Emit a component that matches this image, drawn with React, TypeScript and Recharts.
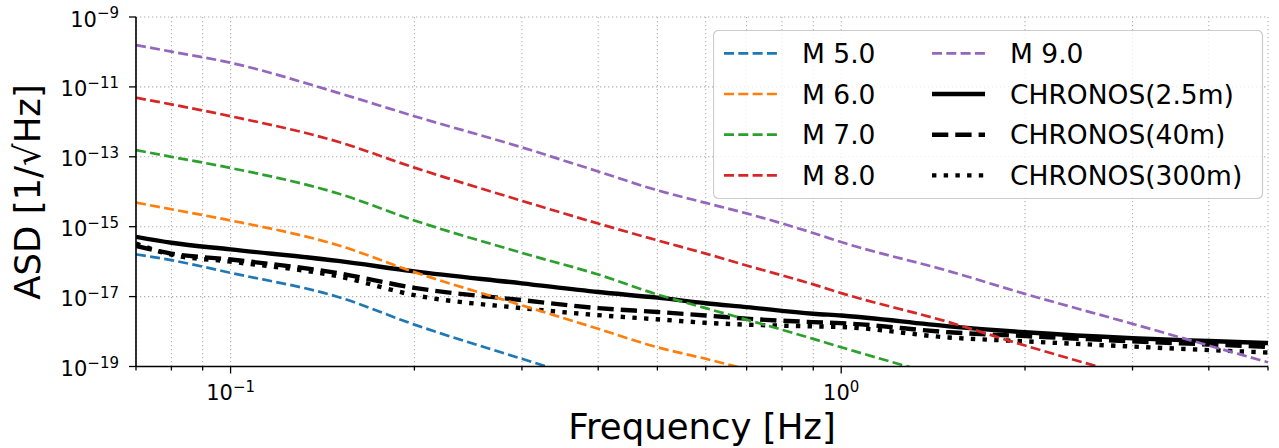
import React from "react";
import { LineChart, Line, XAxis, YAxis, CartesianGrid, Legend } from "recharts";

// frequency grid (Hz) the curves were read at
const freqs = [0.07, 0.08, 0.1, 0.15, 0.2, 0.3, 0.4, 0.5, 0.6, 0.7, 0.9, 1, 1.5, 2, 3, 4, 5];

// earthquake ASD curves (run below the axis, so some are shorter)
const m50 = [1.62e-16, 1.1e-16, 4.79e-17, 9.77e-18, 1.58e-18, 1.66e-19, 3.55e-20];
const m60 = [4.9e-15, 3.16e-15, 1.51e-15, 2.95e-16, 5.01e-17, 5.62e-18, 1.2e-18, 3.55e-19, 1.66e-19, 8.32e-20];
const m70 = [
  1.55e-13, 1.0e-13, 4.79e-14, 8.91e-15, 1.51e-15, 1.78e-16, 4.27e-17, 1.15e-17, 4.68e-18, 2.19e-18, 6.17e-19,
  3.55e-19, 4.68e-20,
];
const m80 = [
  4.9e-12, 3.16e-12, 1.45e-12, 2.69e-13, 4.9e-14, 5.5e-15, 1.23e-15, 4.07e-16, 1.7e-16, 7.76e-17, 2.24e-17, 1.26e-17,
  1.86e-18, 3.98e-19, 5.25e-20,
];
const m90 = [
  1.58e-10, 1.02e-10, 4.9e-11, 6.76e-12, 1.45e-12, 1.86e-13, 3.8e-14, 1.1e-14, 4.79e-15, 2.4e-15, 6.61e-16, 3.63e-16,
  5.37e-17, 1.2e-17, 1.66e-18, 3.98e-19, 1.32e-19,
];

// CHRONOS sensitivity curves
const chronos25 = [
  5.13e-16, 3.47e-16, 2.24e-16, 1.05e-16, 5.25e-17, 2.4e-17, 1.35e-17, 9.33e-18, 6.46e-18, 5.01e-18, 3.24e-18,
  2.88e-18, 1.41e-18, 9.55e-19, 6.46e-19, 5.37e-19, 4.68e-19,
];
const chronos40 = [
  2.82e-16, 1.7e-16, 1.15e-16, 4.68e-17, 1.78e-17, 7.94e-18, 4.68e-18, 3.63e-18, 2.88e-18, 2.34e-18, 1.86e-18,
  1.74e-18, 9.55e-19, 7.41e-19, 5.25e-19, 4.27e-19, 3.63e-19,
];
const chronos300 = [
  3.31e-16, 1.58e-16, 1.0e-16, 3.8e-17, 1.1e-17, 4.68e-18, 2.95e-18, 2.24e-18, 1.78e-18, 1.58e-18, 1.41e-18,
  1.35e-18, 6.76e-19, 5.25e-19, 3.72e-19, 2.95e-19, 2.51e-19,
];

const xTicks = [0.07, 0.08, 0.09, 0.1, 0.2, 0.3, 0.4, 0.5, 0.6, 0.7, 0.8, 0.9, 1, 2, 3, 4, 5];
const xMajor = [0.1, 1];
const xMajorExps = ["\u22121", "0"];
const yTicks = [1e-19, 1e-17, 1e-15, 1e-13, 1e-11, 1e-9];
const yTickExps = ["\u221219", "\u221217", "\u221215", "\u221213", "\u221211", "\u22129"];

const W = 1279;
const H = 448;
const LEFT = 136;
const TOP = 17;
const BOTTOM = 366.5;
const FONT = "DejaVu Sans";

const DASH_M = "10 4.3";

type Series = { name: string; values: number[]; color: string; width: number; dash?: string };

const series: Series[] = [
  { name: "M 5.0", values: m50, color: "#1f77b4", width: 2.7, dash: DASH_M },
  { name: "M 6.0", values: m60, color: "#ff7f0e", width: 2.7, dash: DASH_M },
  { name: "M 7.0", values: m70, color: "#2ca02c", width: 2.7, dash: DASH_M },
  { name: "M 8.0", values: m80, color: "#d62728", width: 2.7, dash: DASH_M },
  { name: "M 9.0", values: m90, color: "#9467bd", width: 2.7, dash: DASH_M },
  { name: "CHRONOS(2.5m)", values: chronos25, color: "#000000", width: 4.4 },
  { name: "CHRONOS(40m)", values: chronos40, color: "#000000", width: 4.4, dash: "16.3 7" },
  { name: "CHRONOS(300m)", values: chronos300, color: "#000000", width: 4.4, dash: "4.4 7.3" },
];

const toPoints = (vals: number[]) => vals.map((v, i) => ({ f: freqs[i], v }));

const XTick = (props: any) => {
  const { x, payload } = props;
  const k = xMajor.indexOf(payload.value);
  const major = k >= 0;
  return (
    <g>
      <line x1={x} x2={x} y1={BOTTOM} y2={BOTTOM + (major ? 7 : 4)} stroke="#000" strokeWidth={1.3} />
      {major && (
        <text x={x} y={BOTTOM + 33} textAnchor="middle" fontSize={21} fill="#000">
          10<tspan dy={-8} fontSize={15}>{xMajorExps[k]}</tspan>
        </text>
      )}
    </g>
  );
};

const YTick = (props: any) => {
  const { y, index } = props;
  return (
    <g>
      <line x1={LEFT - 7} x2={LEFT} y1={y} y2={y} stroke="#000" strokeWidth={1.3} />
      <text x={119} y={y + 9.5} textAnchor="end" fontSize={21} fill="#000">
        10<tspan dy={-8.5} fontSize={15}>{yTickExps[index]}</tspan>
      </text>
    </g>
  );
};

const XTitle = () => (
  <text x={702} y={439} textAnchor="middle" fontSize={35.5} fill="#000">
    Frequency [Hz]
  </text>
);

const YTitle = () => (
  <text x={40} y={192} transform="rotate(-90 40 192)" textAnchor="middle" fontSize={35.5} fill="#000">
    ASD [1/√Hz]
  </text>
);

const LegendBox = () => {
  const rowY = (r: number) => 23.3 + r * 40.7;
  return (
    <svg width={551} height={170} style={{ display: "block" }}>
      <rect x={0.5} y={0.5} width={549} height={168} rx={5} fill="rgba(255,255,255,0.8)" stroke="#cccccc" strokeWidth={1.2} />
      {series.map((s, i) => {
        const col = i < 4 ? 0 : 1;
        const y = rowY(i % 4);
        const x0 = col === 0 ? 11 : 219;
        const tx = col === 0 ? 89 : 297;
        return (
          <g key={s.name}>
            <line x1={x0} x2={x0 + 53} y1={y} y2={y} stroke={s.color} strokeWidth={s.width} strokeDasharray={s.dash} />
            <text x={tx} y={y + 9.6} fontSize={26.5} fill="#000" fontFamily={FONT}>
              {s.name}
            </text>
          </g>
        );
      })}
    </svg>
  );
};

const order = [5, 6, 7, 0, 1, 2, 3, 4];

export default function App() {
  return (
    <div style={{ position: "absolute", left: 0, top: 0, fontFamily: FONT, background: "#fff" }}>
      <LineChart
        width={W}
        height={H}
        margin={{ top: TOP, right: 11, bottom: 0, left: 0 }}
        style={{ fontFamily: FONT }}
      >
        <CartesianGrid stroke="#b0b0b0" strokeDasharray="1.3 2.7" strokeWidth={1.1} />
        <XAxis
          dataKey="f"
          type="number"
          scale="log"
          domain={[0.07, 5]}
          allowDataOverflow
          ticks={xTicks}
          interval={0}
          tick={<XTick />}
          tickLine={false}
          axisLine={{ stroke: "#000", strokeWidth: 1.6 }}
          height={H - BOTTOM}
          label={<XTitle />}
        />
        <XAxis
          xAxisId="top"
          orientation="top"
          dataKey="f"
          type="number"
          scale="log"
          domain={[0.07, 5]}
          allowDataOverflow
          height={0}
          tick={false}
          tickLine={false}
          axisLine={{ stroke: "#000", strokeWidth: 1.6 }}
        />
        <YAxis
          type="number"
          scale="log"
          domain={[1e-19, 1e-9]}
          allowDataOverflow
          ticks={yTicks}
          interval={0}
          tick={<YTick />}
          tickLine={false}
          axisLine={{ stroke: "#000", strokeWidth: 1.6 }}
          width={LEFT}
          label={<YTitle />}
        />
        <YAxis
          yAxisId="right"
          orientation="right"
          type="number"
          scale="log"
          domain={[1e-19, 1e-9]}
          allowDataOverflow
          width={0}
          tick={false}
          tickLine={false}
          axisLine={{ stroke: "#000", strokeWidth: 1.6 }}
        />
        {order.map((i) => {
          const s = series[i];
          return (
            <Line
              key={s.name}
              data={toPoints(s.values)}
              dataKey="v"
              name={s.name}
              type="monotone"
              stroke={s.color}
              strokeWidth={s.width}
              strokeDasharray={s.dash}
              dot={false}
              activeDot={false}
              isAnimationActive={false}
            />
          );
        })}
        <Legend
          layout="horizontal"
          verticalAlign="middle"
          align="center"
          wrapperStyle={{ position: "absolute", left: 713, top: 30, width: 551, height: 170 }}
          content={() => <LegendBox />}
        />
      </LineChart>
    </div>
  );
}
